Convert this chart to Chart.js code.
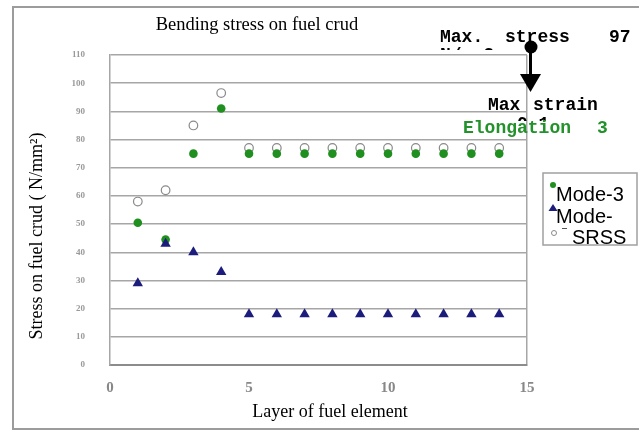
<!DOCTYPE html>
<html>
<head>
<meta charset="utf-8">
<script src="https://cdn.jsdelivr.net/npm/chart.js@4/dist/chart.umd.min.js"></script>
<style>
  html, body { margin: 0; padding: 0; background: #fff; }
  canvas { display: block; }
</style>
</head>
<body>
<canvas id="chart" width="639" height="431"></canvas>
<script>
// values
const layers = [1, 2, 3, 4, 5, 6, 7, 8, 9, 10, 11, 12, 13, 14];
const mode3 = [50.5, 44.5, 75, 91, 75, 75, 75, 75, 75, 75, 75, 75, 75, 75];
const modeOther = [29, 43, 40, 33, 18, 18, 18, 18, 18, 18, 18, 18, 18, 18];
const srss = [58, 62, 85, 96.5, 77, 77, 77, 77, 77, 77, 77, 77, 77, 77];
const seriesNames = ["Mode-3", "Mode-", "SRSS"];
const xTickValues = [0, 5, 10, 15];
const yTickValues = [0, 10, 20, 30, 40, 50, 60, 70, 80, 90, 100, 110];

const chartTitle = "Bending stress on fuel crud";
const xTitle = "Layer of fuel element";
const yTitle = "Stress on fuel crud ( N/mm\u00B2)";

const GREEN = "#1f8f1f";
const NAVY = "#1c1c7c";
const GRID = "#a6a6a6";

const toPoints = vals => layers.map((x, i) => ({ x: x, y: vals[i] }));

const decor = {
    id: "decor",
    beforeDraw(chart) {
        const c = chart.ctx;
        c.save();
        c.fillStyle = "#fff";
        c.fillRect(0, 0, chart.width, chart.height);
        c.strokeStyle = "#9c9c9c";
        c.lineWidth = 2;
        c.strokeRect(13, 7, 640, 422);
        c.restore();
    },
    afterDraw(chart) {
        const c = chart.ctx;
        c.save();

        // titles
        c.fillStyle = "#000";
        c.font = '18.5px "Liberation Serif"';
        c.textAlign = "center";
        c.textBaseline = "alphabetic";
        c.fillText(chartTitle, 257, 30);
        c.font = '18px "Liberation Serif"';
        c.textBaseline = "middle";
        c.fillText(xTitle, 330, 412);
        c.save();
        c.translate(37, 236);
        c.rotate(-Math.PI / 2);
        c.fillText(yTitle, 0, 0);
        c.restore();

        // annotation text
        c.textAlign = "left";
        c.textBaseline = "alphabetic";
        c.font = 'bold 18px "Liberation Mono"';
        c.fillText("Max.", 440, 42);
        c.fillText("stress", 505, 42);
        c.fillText("97", 609, 42);
        c.save();
        c.beginPath();
        c.rect(430, 44, 200, 6);
        c.clip();
        c.fillText("N/mm2", 440, 60);
        c.restore();

        // arrow
        c.fillStyle = "#000";
        c.strokeStyle = "#000";
        c.lineWidth = 3;
        c.beginPath();
        c.moveTo(530.5, 47);
        c.lineTo(530.5, 76);
        c.stroke();
        c.beginPath();
        c.arc(531, 47, 6.5, 0, Math.PI * 2);
        c.fill();
        c.beginPath();
        c.moveTo(520, 74);
        c.lineTo(541, 74);
        c.lineTo(530.5, 92);
        c.closePath();
        c.fill();

        c.fillText("Max", 488, 110);
        c.fillText("strain", 533, 110);
        c.save();
        c.beginPath();
        c.rect(500, 113, 80, 8);
        c.clip();
        c.fillText("0.1", 517, 129);
        c.restore();
        c.fillStyle = "#22922a";
        c.fillText("Elongation", 463, 133);
        c.fillText("3", 597, 133);

        // legend box
        c.fillStyle = "#fff";
        c.fillRect(543, 173, 94, 72);
        c.strokeStyle = "#a0a0a0";
        c.lineWidth = 1.5;
        c.strokeRect(543, 173, 94, 72);

        const ds = chart.data.datasets;
        c.font = '20px "Liberation Sans"';
        c.fillStyle = "#000";
        c.fillText(ds[0].label, 556, 201);
        c.fillText(ds[1].label, 556, 223);
        c.fillText(ds[2].label, 572, 244);

        c.fillStyle = ds[0].backgroundColor;
        c.beginPath();
        c.arc(553, 185, 3, 0, Math.PI * 2);
        c.fill();
        c.fillStyle = ds[1].backgroundColor;
        c.beginPath();
        c.moveTo(553, 204);
        c.lineTo(557.5, 211);
        c.lineTo(548.5, 211);
        c.closePath();
        c.fill();
        c.strokeStyle = ds[2].borderColor;
        c.lineWidth = 1;
        c.beginPath();
        c.arc(554, 233, 2.5, 0, Math.PI * 2);
        c.stroke();
        c.strokeStyle = "#555";
        c.beginPath();
        c.moveTo(562, 228.5);
        c.lineTo(567, 228.5);
        c.stroke();

        c.restore();
    }
};

new Chart(document.getElementById("chart").getContext("2d"), {
    type: "scatter",
    data: {
        datasets: [
            {
                label: seriesNames[0],
                data: toPoints(mode3),
                pointStyle: "circle",
                pointRadius: 4.3,
                backgroundColor: GREEN,
                borderColor: GREEN,
                borderWidth: 0,
                order: 1,
            },
            {
                label: seriesNames[1],
                data: toPoints(modeOther),
                pointStyle: "triangle",
                pointRadius: 6,
                backgroundColor: NAVY,
                borderColor: NAVY,
                borderWidth: 0,
                order: 0,
            },
            {
                label: seriesNames[2],
                data: toPoints(srss),
                pointStyle: "circle",
                pointRadius: 4.3,
                backgroundColor: "#fff",
                borderColor: "#8a8a8a",
                borderWidth: 1.2,
                order: 2,
            },
        ],
    },
    options: {
        responsive: false,
        animation: false,
        layout: {
            padding: { top: 55, right: 112, bottom: 26, left: 0 },
        },
        plugins: {
            legend: { display: false },
            title: { display: false },
            tooltip: { enabled: false },
        },
        scales: {
            x: {
                type: "linear",
                min: 0,
                max: 15,
                afterBuildTicks: s => { s.ticks = xTickValues.map(v => ({ value: v })); },
                afterFit: s => { s.height = 40; },
                grid: {
                    drawTicks: false,
                    lineWidth: 1.5,
                    color: ctx => (ctx.tick && ctx.tick.value === 15 ? GRID : "rgba(0,0,0,0)"),
                },
                border: { color: "#8c8c8c", width: 2 },
                ticks: {
                    padding: 14,
                    color: "#888",
                    font: { family: "Liberation Serif", size: 15, weight: "bold" },
                },
            },
            y: {
                min: 0,
                max: 110,
                afterBuildTicks: s => { s.ticks = yTickValues.map(v => ({ value: v })); },
                afterFit: s => { s.width = 110; },
                grid: { drawTicks: false, lineWidth: 1.5, color: GRID },
                border: { color: GRID, width: 1.5 },
                ticks: {
                    padding: 25,
                    color: "#999",
                    font: { family: "Liberation Serif", size: 9, weight: "bold" },
                },
            },
        },
    },
    plugins: [decor],
});
</script>
</body>
</html>
